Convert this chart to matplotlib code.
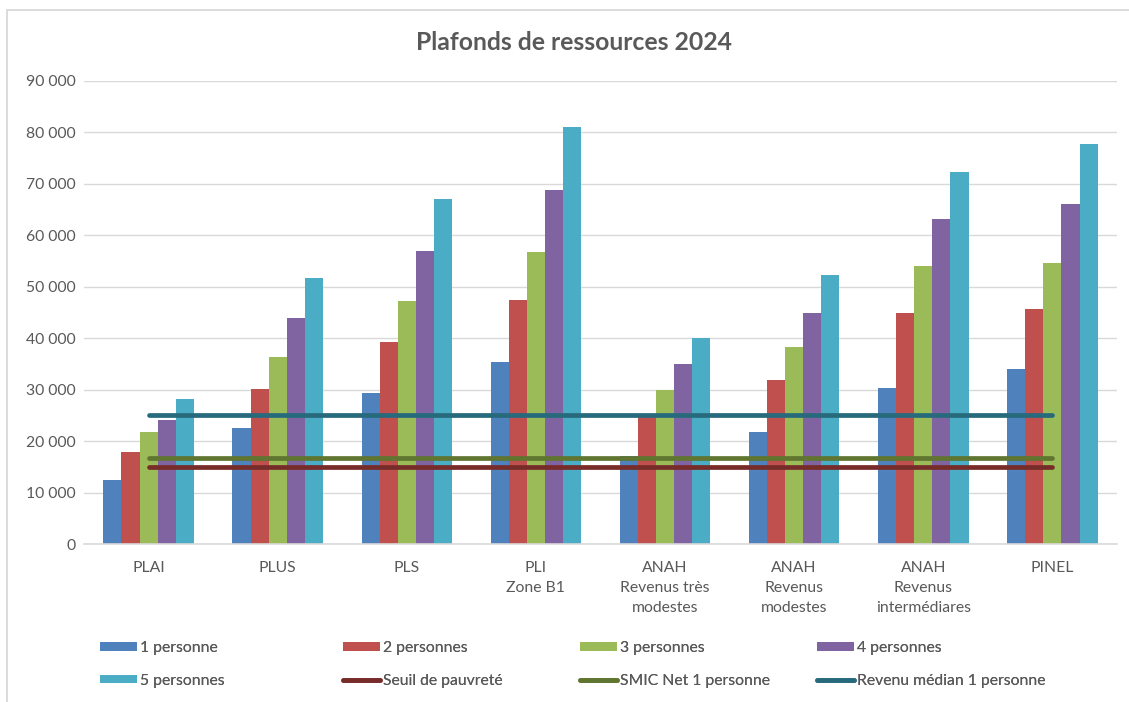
import numpy as np
import matplotlib
matplotlib.use("Agg")
import matplotlib.pyplot as plt
from matplotlib.patches import Rectangle
from matplotlib.ticker import FuncFormatter, MultipleLocator

plt.rcParams['font.family'] = ['Lato', 'DejaVu Sans']

categories = ["PLAI", "PLUS", "PLS", "PLI\nZone B1",
              "ANAH\nRevenus très\nmodestes", "ANAH\nRevenus\nmodestes",
              "ANAH\nRevenus\nintermédiares", "PINEL"]

bar_labels = ["1 personne", "2 personnes", "3 personnes", "4 personnes", "5 personnes"]
p1 = [12440, 22550, 29350, 35380, 17009, 21805, 30330, 34020]
p2 = [17880, 30130, 39270, 47430, 24875, 31889, 44910, 45680]
p3 = [21770, 36350, 47240, 56770, 29917, 38349, 54040, 54630]
p4 = [24100, 43930, 56960, 68820, 34948, 44896, 63180, 66100]
p5 = [28190, 51710, 67070, 81070, 40002, 52275, 72320, 77760]
bar_values = [p1, p2, p3, p4, p5]
bar_colors = ["#4F81BD", "#C0504D", "#9BBB59", "#8064A2", "#4BACC6"]

line_labels = ["Seuil de pauvreté", "SMIC Net 1 personne", "Revenu médian 1 personne"]
seuil_pauvrete = [15000, 15000, 15000, 15000, 15000, 15000, 15000, 15000]
smic_net = [16700, 16700, 16700, 16700, 16700, 16700, 16700, 16700]
revenu_median = [25000, 25000, 25000, 25000, 25000, 25000, 25000, 25000]
line_values = [seuil_pauvrete, smic_net, revenu_median]
line_colors = ["#772C2A", "#5F7530", "#276A7C"]

W, H = 1129, 702
fig = plt.figure(figsize=(W / 100, H / 100), dpi=100)
fig.patch.set_facecolor("white")

# chart frame
fig.add_artist(Rectangle((7 / W, -0.05), 1.2, 1 - 10 / H + 0.05,
                         transform=fig.transFigure, fill=False,
                         edgecolor="#D9D9D9", linewidth=1.3))

ax = fig.add_axes([84 / W, 1 - 544 / H, (1117 - 84) / W, (544 - 81) / H])
x = np.arange(len(categories))
bw = 0.14

bar_handles = []
for i, (vals, col, lab) in enumerate(zip(bar_values, bar_colors, bar_labels)):
    h = ax.bar(x + (i - 2) * bw, vals, width=bw, color=col, label=lab,
               edgecolor="none", zorder=2)
    bar_handles.append(h)

line_handles = []
for vals, col, lab in zip(line_values, line_colors, line_labels):
    ln, = ax.plot(x, vals, color=col, linewidth=3.4, solid_capstyle="round",
                  label=lab, zorder=3)
    line_handles.append(ln)

ax.set_xlim(-0.5, len(categories) - 0.5)
ax.set_ylim(0, 90000)
ax.yaxis.set_major_locator(MultipleLocator(10000))
ax.yaxis.set_major_formatter(FuncFormatter(lambda v, p: f"{v:,.0f}".replace(",", " ")))
ax.grid(axis="y", color="#D9D9D9", linewidth=1.0, zorder=0)
ax.set_axisbelow(True)
for s in ["left", "right", "top"]:
    ax.spines[s].set_visible(False)
ax.spines["bottom"].set_color("#D9D9D9")
ax.spines["bottom"].set_linewidth(1.2)
ax.spines["bottom"].set_zorder(4)
ax.tick_params(axis="both", length=0, colors="#595959", labelsize=11.3)
ax.tick_params(axis="y", pad=6)
ax.tick_params(axis="x", pad=12)
ax.set_xticks(x)
ax.set_xticklabels(categories, linespacing=1.55, color="#595959")

fig.text(574 / W, 1 - 42 / H, "Plafonds de ressources 2024", ha="center",
         va="center", fontsize=17.8, fontweight="bold", color="#595959")

# legend, four columns of two entries
columns = [
    [bar_handles[0], bar_handles[4]],
    [bar_handles[1], line_handles[0]],
    [bar_handles[2], line_handles[1]],
    [bar_handles[3], line_handles[2]],
]
col_x = [100, 343, 580, 817]
for handles, cx in zip(columns, col_x):
    leg = fig.legend(handles=handles, labels=[h.get_label() for h in handles],
                     loc="upper left", bbox_to_anchor=(cx / W, 1 - 641 / H),
                     frameon=False, fontsize=11.3, handlelength=2.35,
                     handleheight=0.45, handletextpad=0.2, labelspacing=1.2,
                     borderaxespad=0, borderpad=0, labelcolor="#595959")
    fig.add_artist(leg)

fig.savefig("out.png", dpi=100, facecolor="white")
